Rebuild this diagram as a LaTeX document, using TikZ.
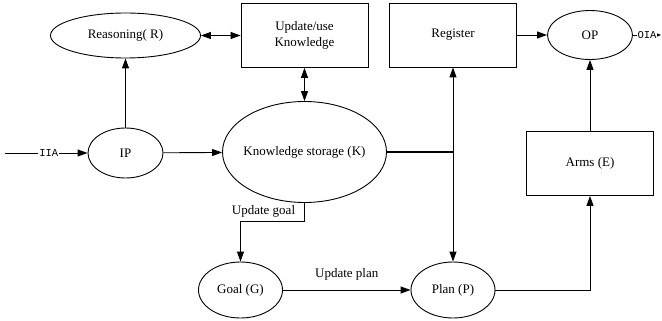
\documentclass[tikz,border=0pt]{standalone}
\usepackage{fontspec}
\setmainfont{Liberation Serif}
\setmonofont{Liberation Mono}
\usetikzlibrary{shapes.geometric,arrows.meta}

\begin{document}
\begin{tikzpicture}[x=1pt,y=-1pt,line width=0.9pt,
	every node/.style={font=\fontsize{13}{16}\selectfont},
	oval/.style={draw,ellipse,inner sep=0pt},
	blk/.style={draw,rectangle,minimum width=127pt,minimum height=64pt,align=center},
	arr/.style={-{Triangle[length=10pt,width=7pt]}},
	darr/.style={{Triangle[length=10pt,width=7pt]}-{Triangle[length=10pt,width=7pt]}},
	tag/.style={font=\ttfamily\fontsize{10.5}{12}\selectfont,fill=white,inner sep=1pt}]
	\useasboundingbox (0,0) rectangle (662,321);
	%ellipses placed by hand
	\node[oval,minimum width=150pt,minimum height=45pt] (reason) at (125.5,35.5){Reasoning( R)};
	\node[oval,minimum width=85pt,minimum height=49pt] (op) at (590,35){OP};
	\node[oval,minimum width=75pt,minimum height=50pt] (ip) at (125.5,153){IP};
	\node[oval,minimum width=164pt,minimum height=101pt,label={center:Knowledge storage (K)}] (ks) at (304.5,152){};
	\node[oval,minimum width=84pt,minimum height=56pt] (goal) at (240.5,290){Goal (G)};
	\node[oval,minimum width=84pt,minimum height=56pt] (plan) at (453,290){Plan (P)};
	%% boxes
	\node[blk] (update) at (304.5,35.5){Update/use\\Knowledge};
	\node[blk] (register) at (453,35){Register};
	\node[blk] (arms) at (590,163.5){Arms (E)};
	%% free ends
	\coordinate (iia) at (5,153);
	\coordinate (oia) at (661,35);
	\coordinate (junc) at (453,152);
	%% connectors
	\draw[arr] (iia) -- node[tag,pos=0.53]{IIA} (ip);
	\draw[arr] (ip) -- (ks);
	\draw[arr] (ip) -- (reason);
	\draw[darr] (reason) -- (update);
	\draw[darr] (update) -- (ks);
	\draw[line width=2pt] (ks) -- (junc);
	\draw[darr] (register) -- (plan);
	\draw[arr] (ks.south) -- ++(0,18) -| node[pos=0.32,above]{Update goal} (goal);
	\draw[arr] (goal) -- node[above=6pt]{Update plan} (plan);
	\draw[arr] (plan) -| (arms);
	\draw[arr] (arms) -- (op);
	\draw[arr] (register) -- (op);
	\draw[-{Triangle[length=4pt,width=3pt]}] (op) -- node[tag]{OIA} (oia);
\end{tikzpicture}
\end{document}
